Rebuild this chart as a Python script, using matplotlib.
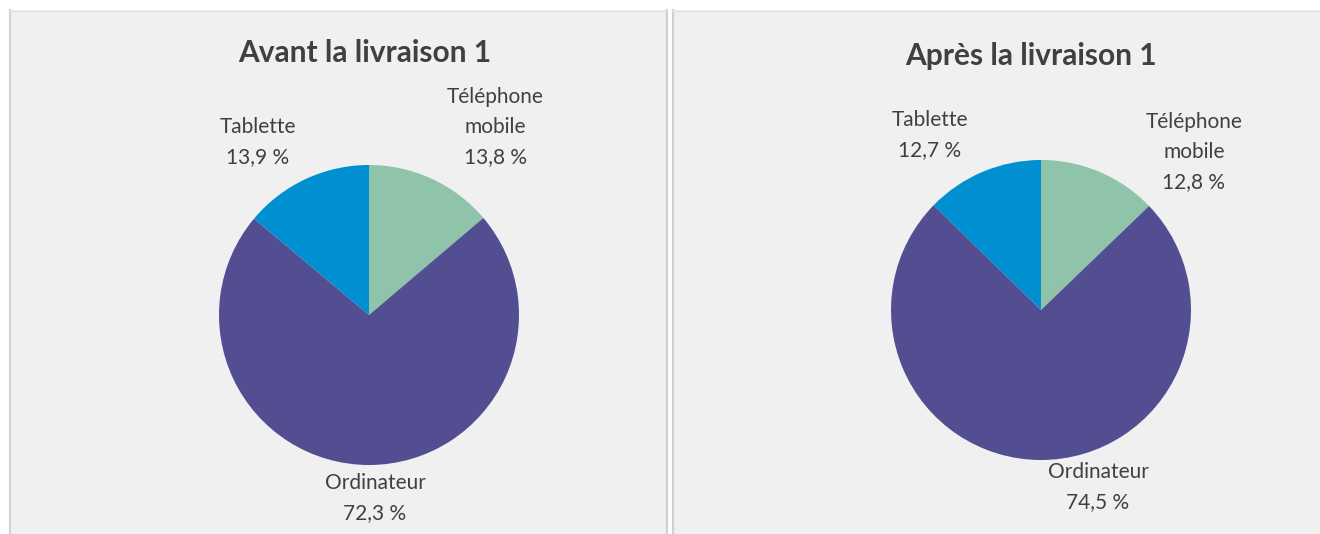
import matplotlib
matplotlib.use("Agg")
import matplotlib.pyplot as plt
from matplotlib.patches import Rectangle

categories = ["Téléphone\nmobile", "Ordinateur", "Tablette"]
avant = [13.8, 72.3, 13.9]
apres = [12.8, 74.5, 12.7]
titles = ["Avant la livraison 1", "Après la livraison 1"]
colors = ["#8fc3aa", "#524e91", "#008fd0"]

W, H = 1320, 534
fig = plt.figure(figsize=(W / 100, H / 100), dpi=100)
fig.patch.set_facecolor("white")
plt.rcParams['font.family'] = ['Lato', 'DejaVu Sans']

def fx(x): return x / W
def fy(y): return 1 - y / H

# panels
for (x0, x1) in [(9, 667), (672, 1320)]:
    fig.patches.append(Rectangle((fx(x0), 0), fx(x1 - x0), fy(10), transform=fig.transFigure,
                                 facecolor="#f0f0f0", edgecolor="none", zorder=-2))
# borders
for x in [9.5, 667, 673]:
    fig.add_artist(plt.Line2D([fx(x), fx(x)], [0, fy(10)], transform=fig.transFigure,
                              color="#d0d0d0", lw=1.5, zorder=-1))
for (x0, x1) in [(9, 667), (672, 1320)]:
    fig.add_artist(plt.Line2D([fx(x0), fx(x1)], [fy(10.5), fy(10.5)], transform=fig.transFigure,
                              color="#e3e3e3", lw=1, zorder=-1))

centers = [(369, 315), (1041, 310)]
R = 150
title_pos = [(365, 53), (1031, 56)]
label_pos = [
    [(495, 127), (375, 498), (258, 142)],
    [(1194, 152), (1098, 487), (930, 135)],
]

for i, vals in enumerate([avant, apres]):
    cx, cy = centers[i]
    ax = fig.add_axes([fx(cx - R), fy(cy + R), fx(2 * R), (2 * R) / H])
    ax.pie(vals, colors=colors, startangle=90, counterclock=False, radius=1,
           wedgeprops=dict(linewidth=0))
    ax.set_xlim(-1, 1)
    ax.set_ylim(-1, 1)
    ax.set_aspect("equal")
    ax.axis("off")
    fig.text(fx(title_pos[i][0]), fy(title_pos[i][1]), titles[i], ha="center", va="center",
             fontsize=21.5, fontweight="bold", color="#404040")
    for j, cat in enumerate(categories):
        lx, ly = label_pos[i][j]
        txt = f"{cat}\n{vals[j]:.1f} %".replace(".", ",")
        fig.text(fx(lx), fy(ly), txt, ha="center", va="center", fontsize=15,
                 color="#404040", linespacing=1.65)

fig.savefig("out.png", dpi=100)
